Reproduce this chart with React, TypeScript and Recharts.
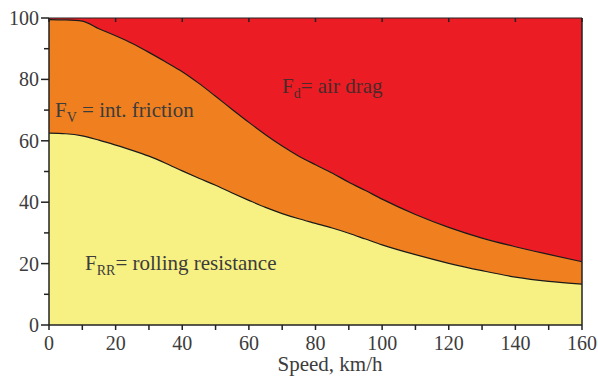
import React from "react";
import { AreaChart, Area, Line, XAxis, YAxis } from "recharts";

// speed in km/h and the two boundary curves (% of total resistance)
const speed = [0, 5, 10, 15, 20, 25, 30, 35, 40, 45, 50, 55, 60, 65, 70, 75, 80, 85, 90, 95, 100, 110, 120, 130, 140, 150, 160];
const rollingTop = [62.5, 62.3, 61.6, 60.2, 58.6, 56.9, 55, 52.7, 50.2, 47.8, 45.5, 43, 40.6, 38.3, 36.3, 34.6, 33.1, 31.6, 29.9, 28, 26.1, 22.9, 20.1, 17.7, 15.6, 14.2, 13.3];
const frictionTop = [99.5, 99.4, 99, 96.5, 94.2, 91.7, 88.8, 85.7, 82.5, 78.7, 74.5, 70.2, 66, 62, 58.3, 55, 52.2, 49.5, 46.5, 43.8, 41, 36, 31.8, 28.3, 25.5, 23, 20.6];

const xTicks = [0, 10, 20, 30, 40, 50, 60, 70, 80, 90, 100, 110, 120, 130, 140, 150, 160];
const xTopTicks = [0, 20, 40, 60, 80, 100, 120, 140, 160];
const yTicks = [0, 10, 20, 30, 40, 50, 60, 70, 80, 90, 100];

const data = speed.map((s, i) => ({
  speed: s,
  rr: rollingTop[i],
  fv: frictionTop[i] - rollingTop[i],
  fd: 100 - frictionTop[i],
  rrTop: rollingTop[i],
  fvTop: frictionTop[i],
}));

const FONT = "'Liberation Serif', 'DejaVu Serif', serif";
const INK = "#222";
const LABEL = "#3c3c3c";

const BottomTick = (props: any) => {
  const { x, y, payload } = props;
  const major = payload.value % 20 === 0;
  return (
    <g>
      <line x1={x} x2={x} y1={y} y2={y + 5} stroke={INK} strokeWidth={1.5} />
      {major && (
        <text x={x} y={y + 25} textAnchor="middle" fontSize={20} fontFamily={FONT} fill={LABEL}>
          {payload.value}
        </text>
      )}
    </g>
  );
};

const LeftTick = (props: any) => {
  const { x, y, payload } = props;
  const major = payload.value % 20 === 0;
  return (
    <g>
      <line x1={x - (major ? 8 : 5)} x2={x} y1={y} y2={y} stroke={INK} strokeWidth={1.5} />
      {major && (
        <text x={x - 10} y={y} dy="0.35em" textAnchor="end" fontSize={20} fontFamily={FONT} fill={LABEL}>
          {payload.value}
        </text>
      )}
    </g>
  );
};

const TopTick = (props: any) => {
  const { x, y } = props;
  return <line x1={x} x2={x} y1={y} y2={y + 4} stroke={INK} strokeWidth={1.5} />;
};

const RightTick = (props: any) => {
  const { x, y, payload } = props;
  const major = payload.value % 20 === 0;
  return <line x1={x - (major ? 6 : 3)} x2={x} y1={y} y2={y} stroke={INK} strokeWidth={1.5} />;
};

// text annotations, laid over the chart
const Labels = () => (
  <svg width={598} height={377} style={{ position: "absolute", left: 0, top: 0, pointerEvents: "none" }}>
    <g fontFamily={FONT} fontSize={21}>
      <text x={282} y={93} fill="#4a2a2a">
        F<tspan fontSize={14} dy={5}>d</tspan>
        <tspan dy={-5}>= air drag</tspan>
      </text>
      <text x={55} y={117} fill={LABEL}>
        F<tspan fontSize={14} dy={5}>V</tspan>
        <tspan dy={-5}> = int. friction</tspan>
      </text>
      <text x={85} y={270} fill={LABEL}>
        F<tspan fontSize={14} dy={5}>RR</tspan>
        <tspan dy={-5}>= rolling resistance</tspan>
      </text>
      <text x={330} y={371} textAnchor="middle" fill={LABEL}>
        Speed, km/h
      </text>
    </g>
  </svg>
);

export default function App() {
  return (
    <div style={{ position: "absolute", left: 0, top: 0, width: 598, height: 377, background: "#fff" }}>
      <AreaChart width={598} height={377} data={data} margin={{ top: 18, right: 16, bottom: 0, left: 0 }}>
        <XAxis
          xAxisId="bottom"
          dataKey="speed"
          type="number"
          domain={[0, 160]}
          ticks={xTicks}
          interval={0}
          height={52}
          tickSize={0}
          tickMargin={0}
          tickLine={false}
          tick={<BottomTick />}
          axisLine={{ stroke: INK, strokeWidth: 1.5 }}
        />
        <XAxis
          xAxisId="top"
          dataKey="speed"
          type="number"
          orientation="top"
          mirror
          domain={[0, 160]}
          ticks={xTopTicks}
          interval={0}
          tickSize={0}
          tickMargin={0}
          tickLine={false}
          tick={<TopTick />}
          axisLine={{ stroke: INK, strokeWidth: 1.2 }}
        />
        <YAxis
          yAxisId="left"
          type="number"
          domain={[0, 100]}
          ticks={yTicks}
          interval={0}
          width={49}
          tickSize={0}
          tickMargin={0}
          tickLine={false}
          tick={<LeftTick />}
          axisLine={{ stroke: INK, strokeWidth: 1.5 }}
        />
        <YAxis
          yAxisId="right"
          type="number"
          orientation="right"
          mirror
          domain={[0, 100]}
          ticks={yTicks}
          interval={0}
          tickSize={0}
          tickMargin={0}
          tickLine={false}
          tick={<RightTick />}
          axisLine={{ stroke: INK, strokeWidth: 1.5 }}
        />
        <Area xAxisId="bottom" yAxisId="left" type="monotone" dataKey="rr" stackId="a" stroke="none" fill="#f7f082" fillOpacity={1} isAnimationActive={false} />
        <Area xAxisId="bottom" yAxisId="left" type="monotone" dataKey="fv" stackId="a" stroke="none" fill="#f0801f" fillOpacity={1} isAnimationActive={false} />
        <Area xAxisId="bottom" yAxisId="left" type="monotone" dataKey="fd" stackId="a" stroke="none" fill="#ec1c24" fillOpacity={1} isAnimationActive={false} />
        <Line xAxisId="bottom" yAxisId="left" type="monotone" dataKey="rrTop" stroke="#1a1a1a" strokeWidth={1.2} dot={false} isAnimationActive={false} />
        <Line xAxisId="bottom" yAxisId="left" type="monotone" dataKey="fvTop" stroke="#1a1a1a" strokeWidth={1.2} dot={false} isAnimationActive={false} />
      </AreaChart>
      <Labels />
    </div>
  );
}
